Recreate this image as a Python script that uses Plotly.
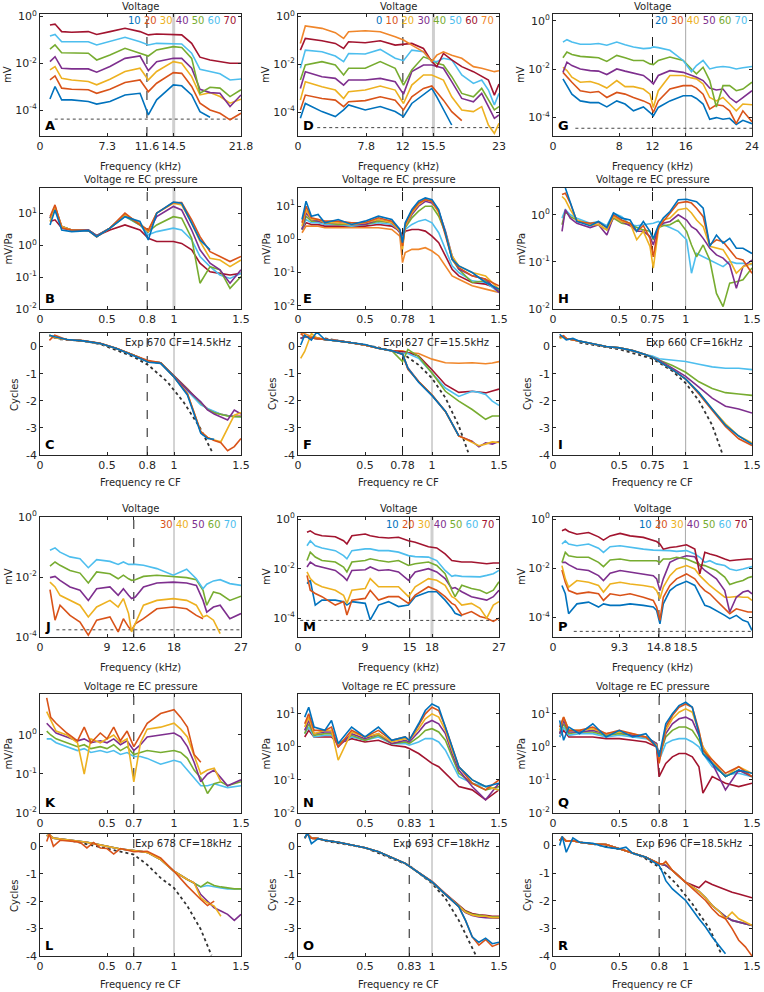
import math
import plotly.graph_objects as go

# ---------------- colours / levels ----------------
C_BLUE = "#0072BD"; C_ORANGE = "#D95319"; C_YELLOW = "#EDB120"; C_PURPLE = "#7E2F8E"
C_GREEN = "#77AC30"; C_LBLUE = "#4DBEEE"; C_DRED = "#A2142F"; C_ORANGE2 = "#F0862A"
CYCLE7 = [C_BLUE, C_ORANGE, C_YELLOW, C_PURPLE, C_GREEN, C_LBLUE, C_DRED]
CYCLE8 = CYCLE7 + [C_ORANGE2]

# ================= DATA (log10 values) =================
# ---- Exp 670 (A,B,C) ----
A_levels = [10, 20, 30, 40, 50, 60, 70]
A_freq_kHz = [1.08, 1.63, 2.35, 3.43, 5.24, 6.15, 7.59, 9.22, 10.85, 11.75, 12.65, 14.46, 15.37, 16.45, 17.35, 18.44, 19.52, 20.61, 21.8]
A_log_mV = [
    [-3.52, -2.99, -3.56, -3.56, -3.63, -3.74, -3.63, -3.35, -3.28, -4.20, -3.56, -2.92, -2.96, -3.35, -4.06, -4.30, None, None, None],
    [-2.71, -2.54, -3.06, -3.11, -3.13, -3.28, -3.11, -2.82, -2.71, -3.21, -2.85, -2.40, -2.43, -2.99, -3.70, -3.99, -4.13, -4.41, -4.13],
    [-2.28, -2.14, -2.64, -2.71, -2.78, -2.92, -2.68, -2.35, -2.21, -2.71, -2.35, -1.93, -2.00, -2.57, -3.35, -3.25, -3.42, -3.70, -3.53],
    [-1.93, -1.72, -2.21, -2.24, -2.24, -2.38, -2.14, -1.79, -1.69, -2.31, -1.93, -1.79, -1.79, -2.21, -3.11, -3.25, -3.28, -3.84, -3.35],
    [-1.40, -1.22, -1.55, -1.55, -1.57, -1.86, -1.65, -1.36, -1.57, -1.69, -1.43, -1.29, -1.33, -1.79, -3.28, -3.02, -3.06, -3.42, -3.13],
    [-0.84, -0.77, -1.08, -1.08, -1.08, -1.22, -1.08, -0.89, -1.08, -1.22, -1.15, -1.15, -1.18, -1.57, -2.26, -2.35, -2.45, -2.71, -2.67],
    [-0.37, -0.33, -0.65, -0.68, -0.65, -0.77, -0.65, -0.51, -0.65, -0.79, -0.75, -0.77, -0.79, -1.15, -1.74, -1.86, -1.93, -2.00, -2.00],
]
A_noise = [1.6, -4.38]
B_ratio = [0.075, 0.112, 0.162, 0.236, 0.361, 0.423, 0.522, 0.634, 0.746, 0.808, 0.871, 0.995, 1.057, 1.132, 1.194, 1.269, 1.343, 1.418, 1.5]
B_log_mVPa = [
    [0.64, 1.11, 0.48, 0.43, 0.46, 0.27, 0.54, 0.90, 0.75, 0.17, 1.01, 1.36, 1.32, 0.69, 0.17, -0.14, None, None, None],
    [0.90, 1.27, 0.54, 0.48, 0.46, 0.27, 0.54, 1.01, 0.64, 0.48, 1.01, 1.34, 1.34, 0.80, 0.27, -0.20, -0.35, -0.51, -0.35],
    [0.75, 1.22, 0.59, 0.48, 0.46, 0.27, 0.54, 0.96, 0.69, 0.43, 1.01, 1.32, 1.27, 0.69, 0.12, -0.41, -0.46, -0.67, -0.46],
    [0.85, 1.22, 0.59, 0.48, 0.48, 0.30, 0.54, 0.96, 0.67, 0.43, 0.90, 1.22, 1.11, 0.48, -0.14, -0.56, -0.77, -1.19, -0.77],
    [0.85, 1.17, 0.59, 0.48, 0.48, 0.30, 0.54, 0.92, 0.64, 0.43, 0.64, 0.90, 0.85, 0.22, -1.19, -0.67, -0.77, -1.35, -0.98],
    [0.85, 1.11, 0.59, 0.48, 0.48, 0.30, 0.54, 0.90, 0.64, 0.33, 0.43, 0.54, 0.48, 0.17, -0.35, -0.67, -0.93, -1.04, -0.88],
    [0.75, 0.80, 0.54, 0.48, 0.48, 0.30, 0.48, 0.64, 0.48, 0.22, 0.12, 0.12, 0.06, -0.14, -0.56, -0.83, -0.88, -0.93, -0.88],
]
C_ratio = [0.07, 0.11, 0.2, 0.32, 0.45, 0.57, 0.7, 0.81, 0.9, 1.0, 1.1, 1.2, 1.25, 1.3, 1.35, 1.4, 1.45, 1.5]
C_cycles = [
    [0.42, 0.36, 0.26, 0.21, 0.11, -0.07, -0.34, -0.58, -0.62, -1.12, -1.79, -3.20, -3.39, -3.42, None, None, None, None],
    [0.23, 0.42, 0.25, 0.22, 0.12, -0.06, -0.32, -0.52, -0.60, -1.12, -1.74, -3.14, -3.35, -3.47, -3.55, -3.84, -3.69, -3.39],
    [0.40, 0.33, 0.26, 0.21, 0.11, -0.07, -0.32, -0.56, -0.60, -1.12, -1.74, -3.14, -3.35, -3.45, -3.51, -3.02, -2.53, -2.44],
    [0.40, 0.33, 0.26, 0.21, 0.11, -0.07, -0.32, -0.56, -0.60, -1.10, -1.60, -2.04, -2.34, -2.49, -2.59, -2.71, -2.34, -2.49],
    [0.42, 0.33, 0.26, 0.21, 0.11, -0.07, -0.32, -0.56, -0.60, -1.10, -1.58, -2.10, -2.32, -2.44, -2.50, -2.56, -2.59, -2.59],
    [0.42, 0.33, 0.26, 0.21, 0.11, -0.07, -0.32, -0.56, -0.60, -1.12, -1.62, -2.15, -2.28, -2.40, -2.50, -2.55, -2.58, -2.60],
    [0.42, 0.33, 0.26, 0.21, 0.11, -0.07, -0.32, -0.56, -0.60, -1.08, -1.56, -2.08, -2.30, -2.42, -2.50, -2.54, -2.57, -2.57],
]
C_model_ratio = [0.15, 0.32, 0.45, 0.7, 0.81, 0.95, 1.07, 1.19, 1.29]
C_model_cycles = [0.27, 0.21, 0.09, -0.38, -0.69, -1.30, -2.04, -2.96, -3.94]

# ---- Exp 627 (D,E,F) ----
D_levels = [0, 10, 20, 30, 40, 50, 60, 70]
D_freq_kHz = [0.27, 0.84, 2.74, 4.27, 5.22, 5.79, 7.69, 9.41, 11.12, 12.07, 13.02, 14.36, 15.31, 15.88, 16.64, 17.59, 18.74, 20.07, 21.02, 21.79, 22.47, 23.0]
D_log_mV = [
    [-4.26, -3.64, -3.98, -4.19, -3.91, -3.70, -3.91, -3.77, -3.98, -4.19, -3.64, -3.29, -3.01, -3.36, -3.91, -4.54, None, None, None, None, None, None],
    [-3.91, -3.29, -3.43, -3.50, -3.77, -3.57, -3.52, -3.36, -3.50, -3.91, -3.36, -3.01, -2.91, -3.15, -3.50, -3.98, -4.36, None, None, None, None, None],
    [-3.50, -2.73, -2.94, -3.08, -3.43, -3.15, -3.08, -2.91, -3.08, -3.64, -2.87, -2.45, -2.45, -2.55, -2.66, -3.36, -3.91, -3.98, -3.77, -4.54, -4.89, -4.47],
    [-3.01, -2.31, -2.52, -2.59, -2.87, -2.66, -2.66, -2.59, -2.73, -3.25, -2.31, -2.03, -2.03, -2.08, -2.17, -2.73, -3.43, -3.57, -3.22, -3.77, -4.26, -4.12],
    [-2.66, -2.03, -1.89, -2.03, -2.45, -2.17, -2.17, -1.89, -2.17, -2.87, -2.24, -1.69, -1.82, -1.96, -2.03, -2.52, -3.22, -3.36, -3.01, -3.50, -3.91, -3.77],
    [-2.17, -1.41, -1.48, -1.66, -1.89, -1.55, -1.57, -1.38, -1.75, -1.85, -1.41, -1.48, -1.89, -1.89, -1.75, -1.82, -2.45, -2.80, -2.66, -3.08, -3.70, -3.22],
    [-1.41, -0.92, -1.02, -1.13, -1.34, -1.06, -1.10, -1.02, -1.20, -1.16, -1.13, -1.34, -1.89, -2.10, -1.55, -1.82, -2.10, -2.31, -2.52, -2.66, -3.29, -2.83],
    [-1.13, -0.40, -0.50, -0.68, -0.92, -0.64, -0.60, -0.64, -0.85, -0.99, -1.20, -1.48, -1.89, -1.62, -1.48, -1.62, -1.75, -2.10, -2.17, -2.24, -2.31, -2.27],
]
D_noise = [2.2, -4.65]
E_ratio = [0.03, 0.06, 0.1, 0.15, 0.2, 0.3, 0.4, 0.5, 0.6, 0.7, 0.76, 0.78, 0.8, 0.85, 0.9, 0.95, 1.0, 1.05, 1.1, 1.15, 1.2, 1.3, 1.4, 1.5]
E_log_mVPa = [
    [0.6, 1.15, 0.7, 0.75, 0.5, 0.6, 0.45, 0.55, 0.7, 0.6, 0.3, -0.1, 0.5, 0.9, 1.15, 1.25, 1.2, 0.9, 0.2, -0.6, -0.8, -1.0, -1.3, -1.5],
    [0.5, 1.0, 0.65, 0.6, 0.55, 0.55, 0.5, 0.5, 0.65, 0.55, 0.3, -0.2, 0.45, 0.85, 1.1, 1.2, 1.15, 0.85, 0.15, -0.6, -0.85, -1.1, -1.2, -1.4],
    [0.4, 0.9, 0.6, 0.6, 0.5, 0.5, 0.45, 0.5, 0.6, 0.5, 0.25, -0.3, 0.4, 0.8, 1.05, 1.2, 1.15, 0.8, 0.2, -0.5, -0.8, -1.0, -1.1, -1.5],
    [0.3, 0.8, 0.6, 0.55, 0.5, 0.5, 0.45, 0.45, 0.6, 0.5, 0.2, -0.2, 0.4, 0.75, 1.0, 1.15, 1.1, 0.85, 0.25, -0.5, -0.9, -1.1, -1.2, -1.6],
    [0.3, 0.7, 0.55, 0.55, 0.5, 0.45, 0.45, 0.45, 0.55, 0.5, 0.25, -0.1, 0.35, 0.65, 0.85, 1.0, 1.0, 0.7, 0.2, -0.6, -0.9, -1.3, -1.25, -1.55],
    [0.3, 0.6, 0.5, 0.5, 0.45, 0.45, 0.4, 0.45, 0.5, 0.45, 0.25, 0.0, 0.3, 0.45, 0.55, 0.6, 0.5, 0.2, -0.3, -0.8, -1.0, -1.25, -1.3, -1.6],
    [0.3, 0.5, 0.45, 0.45, 0.4, 0.4, 0.4, 0.4, 0.45, 0.4, 0.25, 0.1, 0.25, 0.3, 0.3, 0.25, 0.1, -0.1, -0.5, -0.9, -1.1, -1.3, -1.35, -1.5],
    [0.2, 0.4, 0.4, 0.4, 0.35, 0.35, 0.35, 0.35, 0.35, 0.3, 0.1, -0.7, -0.4, -0.3, -0.3, -0.25, -0.35, -0.5, -0.8, -1.1, -1.2, -1.4, -1.5, -1.6],
]
F_ratio = [0.02, 0.05, 0.1, 0.14, 0.2, 0.3, 0.4, 0.5, 0.6, 0.7, 0.78, 0.82, 0.9, 1.0, 1.1, 1.2, 1.3, 1.35, 1.4, 1.45, 1.5]
F_cycles = [
    [0.04, 0.40, 0.22, 0.52, 0.24, 0.19, 0.12, 0.06, -0.08, -0.17, -0.30, -0.81, -1.33, -1.82, -2.39, -3.30, None, None, None, None, None],
    [0.45, 0.35, 0.30, 0.28, 0.24, 0.19, 0.12, 0.04, -0.08, -0.17, -0.30, -0.85, -1.30, -1.80, -2.40, -3.30, -3.50, None, None, None, None],
    [-0.45, -0.20, 0.46, 0.30, 0.24, 0.19, 0.12, 0.04, -0.08, -0.17, -0.30, -0.82, -1.30, -1.80, -2.40, -3.30, -3.56, -3.66, -3.60, -3.52, -3.54],
    [0.28, 0.35, 0.30, 0.28, 0.24, 0.19, 0.12, 0.04, -0.08, -0.17, -0.30, -0.80, -1.30, -1.80, -2.40, -3.30, -3.50, -3.70, -3.55, -3.60, -3.50],
    [0.28, 0.35, 0.30, 0.28, 0.24, 0.19, 0.12, 0.04, -0.08, -0.17, -0.57, -0.12, -0.39, -0.99, -1.66, -2.02, -2.33, -2.51, -2.69, -2.57, -2.57],
    [0.28, 0.35, 0.30, 0.28, 0.24, 0.19, 0.12, 0.04, -0.08, -0.17, -0.27, -0.27, -0.45, -0.99, -1.54, -1.85, -1.66, -1.70, -1.78, -2.02, -2.18],
    [0.28, 0.35, 0.30, 0.28, 0.24, 0.19, 0.12, 0.04, -0.08, -0.17, -0.21, -0.24, -0.36, -0.87, -1.42, -1.70, -1.66, -1.68, -1.72, -1.65, -1.58],
    [0.48, 0.45, 0.35, 0.30, 0.24, 0.19, 0.12, 0.04, -0.08, -0.17, -0.17, -0.24, -0.27, -0.48, -0.61, -0.63, -0.61, -0.63, -0.65, -0.62, -0.57],
]
F_model_ratio = [0.2, 0.4, 0.6, 0.78, 0.9, 1.0, 1.1, 1.2, 1.27]
F_model_cycles = [0.28, 0.12, -0.05, -0.27, -0.69, -1.18, -1.90, -2.93, -3.90]

# ---- Exp 660 (G,H,I) ----
G_levels = [20, 30, 40, 50, 60, 70]
G_freq_kHz = [1.2, 1.68, 2.28, 3.29, 4.49, 5.49, 6.49, 7.69, 8.69, 9.7, 10.9, 11.7, 12.1, 12.7, 14.1, 15.7, 16.7, 17.3, 18.1, 18.9, 19.7, 20.5, 21.3, 22.1, 22.9, 24.0]
G_log_mV = [
    [-2.40, -2.68, -3.03, -3.31, -3.38, -3.38, -3.56, -3.31, -3.44, -3.72, -3.56, -3.79, -3.93, -3.58, -3.31, -3.10, -3.10, -3.21, -3.44, -4.07, -4.00, -4.07, -4.03, -4.28, -4.11, -4.25],
    [-2.13, -2.33, -2.54, -2.89, -2.96, -2.92, -3.17, -2.96, -3.03, -3.17, -3.31, -3.44, -3.79, -3.31, -2.82, -2.68, -2.68, -2.78, -3.03, -3.65, -3.47, -3.51, -3.72, -4.25, -3.72, -4.17],
    [-1.92, -2.06, -2.33, -2.54, -2.51, -2.61, -2.78, -2.47, -2.72, -2.72, -2.82, -3.03, -3.58, -2.89, -2.26, -2.26, -2.36, -2.40, -2.61, -3.17, -3.31, -3.17, -3.44, -3.72, -3.44, -3.47],
    [-2.13, -1.71, -1.85, -1.99, -2.06, -2.08, -2.22, -1.99, -2.08, -2.17, -2.26, -2.47, -2.61, -2.26, -2.06, -2.13, -2.26, -2.33, -2.47, -2.78, -2.86, -2.82, -3.17, -3.38, -3.17, -2.89],
    [-1.53, -1.29, -1.39, -1.47, -1.50, -1.53, -1.68, -1.43, -1.53, -1.64, -1.64, -1.78, -1.81, -1.64, -1.50, -1.64, -1.99, -2.19, -1.92, -2.47, -3.56, -2.68, -2.68, -2.89, -2.82, -2.54],
    [-0.88, -0.78, -0.88, -0.97, -0.97, -0.94, -1.01, -0.88, -0.99, -1.08, -1.15, -1.13, -1.08, -1.11, -1.22, -1.64, -2.10, -1.85, -1.64, -1.99, -1.92, -1.89, -1.92, -1.99, -1.94, -1.89],
]
G_noise = [2.7, -4.44]
H_ratio = [0.068, 0.093, 0.130, 0.180, 0.280, 0.343, 0.406, 0.456, 0.518, 0.581, 0.631, 0.681, 0.731, 0.756, 0.794, 0.831, 0.882, 0.944, 1.007, 1.044, 1.082, 1.132, 1.182, 1.232, 1.282, 1.332, 1.382, 1.432, 1.5]
H_log_mVPa = [
    [None, 0.57, 0.28, -0.14, -0.23, -0.14, -0.27, 0.04, -0.07, -0.11, -0.35, -0.14, -0.35, -0.50, -0.23, -0.07, 0.07, 0.32, 0.33, 0.30, 0.28, 0.14, -0.67, -0.43, -0.60, -0.50, -0.71, -0.71, -0.82],
    [0.43, 0.46, 0.25, -0.14, -0.18, -0.16, -0.27, 0.0, -0.11, -0.18, -0.35, -0.23, -0.50, -0.89, -0.27, -0.14, 0.04, 0.25, 0.28, 0.25, 0.14, -0.04, -0.64, -0.53, -0.57, -0.74, -0.92, -0.96, -1.24],
    [0.39, 0.32, 0.11, -0.11, -0.21, -0.21, -0.32, -0.04, -0.14, -0.18, -0.53, -0.35, -0.67, -1.13, -0.32, -0.11, -0.07, 0.11, 0.14, 0.04, -0.11, -0.25, -0.67, -0.71, -0.74, -0.96, -1.24, -1.10, -1.03],
    [-0.35, 0.11, -0.07, -0.18, -0.27, -0.21, -0.43, -0.04, -0.14, -0.23, -0.35, -0.35, -0.46, -0.64, -0.27, -0.18, -0.14, 0.0, -0.11, -0.25, -0.32, -0.50, -0.71, -0.85, -0.92, -1.06, -1.56, -1.10, -0.96],
    [-0.21, 0.07, -0.04, -0.11, -0.21, -0.21, -0.32, -0.07, -0.18, -0.21, -0.27, -0.32, -0.35, -0.53, -0.27, -0.23, -0.21, -0.11, -0.35, -0.64, -0.89, -0.64, -0.96, -1.67, -1.95, -1.45, -1.42, -1.38, -1.13],
    [-0.07, 0.11, 0.0, -0.07, -0.18, -0.14, -0.23, 0.04, -0.04, -0.21, -0.23, -0.21, -0.18, -0.18, -0.14, -0.21, -0.27, -0.35, -0.53, -1.24, -0.82, -0.89, -0.96, -1.03, -1.10, -0.99, -1.03, -1.03, -1.06],
]
I_ratio = [0.05, 0.08, 0.1, 0.15, 0.2, 0.3, 0.4, 0.5, 0.6, 0.7, 0.75, 0.8, 0.9, 1.0, 1.1, 1.2, 1.3, 1.4, 1.5]
I_cycles = [
    [0.45, 0.35, 0.25, 0.30, 0.20, 0.10, 0.0, -0.05, -0.15, -0.30, -0.40, -0.55, -0.85, -1.20, -1.70, -2.30, -2.90, -3.30, -3.60],
    [0.35, 0.40, 0.30, 0.25, 0.20, 0.10, 0.0, -0.05, -0.15, -0.30, -0.40, -0.55, -0.85, -1.20, -1.75, -2.35, -2.95, -3.40, -3.65],
    [0.30, 0.35, 0.30, 0.25, 0.20, 0.10, 0.0, -0.05, -0.15, -0.30, -0.40, -0.55, -0.85, -1.20, -1.70, -2.30, -2.85, -3.30, -3.55],
    [0.35, 0.35, 0.30, 0.25, 0.20, 0.10, 0.0, -0.05, -0.15, -0.30, -0.40, -0.50, -0.80, -1.10, -1.50, -1.90, -2.20, -2.30, -2.45],
    [0.35, 0.35, 0.30, 0.25, 0.20, 0.10, 0.0, -0.05, -0.15, -0.30, -0.40, -0.50, -0.70, -0.95, -1.30, -1.55, -1.70, -1.75, -1.80],
    [0.35, 0.35, 0.30, 0.25, 0.20, 0.10, 0.0, -0.05, -0.15, -0.30, -0.35, -0.45, -0.50, -0.55, -0.65, -0.75, -0.80, -0.80, -0.85],
]
I_model_ratio = [0.2, 0.5, 0.75, 0.9, 1.0, 1.1, 1.2, 1.28]
I_model_cycles = [0.15, -0.10, -0.45, -0.90, -1.35, -2.00, -2.90, -4.00]

# ---- Exp 678 (J,K,L) ----
J_levels = [30, 40, 50, 60, 70]
J_freq_kHz = [1.34, 2.02, 2.69, 4.03, 5.37, 6.49, 7.61, 9.40, 10.5, 11.2, 11.9, 12.3, 12.8, 13.9, 15.7, 17.9, 19.7, 21.0, 21.9, 22.4, 23.3, 24.2, 25.5, 27.0]
J_log_mV = [
    [-2.42, -3.44, -2.94, -3.28, -3.50, -3.94, -3.44, -3.33, -3.83, -3.39, -3.67, -3.78, -3.56, -3.39, -3.06, -3.00, -3.06, -3.28, -3.39, None, None, None, None, None],
    [-2.17, -2.33, -2.61, -2.78, -2.94, -3.33, -3.00, -2.78, -3.00, -2.72, -3.22, -3.83, -3.56, -2.94, -2.78, -2.72, -2.78, -2.94, -3.33, -3.28, -3.44, -3.89, None, None],
    [-2.02, -1.98, -2.11, -2.33, -2.44, -2.78, -2.39, -2.33, -2.61, -2.39, -2.61, -2.72, -2.67, -2.33, -2.20, -2.17, -2.20, -2.28, -2.78, -3.17, -3.00, -2.94, -3.39, -3.22],
    [-1.64, -1.50, -1.61, -1.78, -1.87, -2.20, -1.83, -1.89, -2.06, -1.94, -2.06, -2.11, -2.09, -1.98, -1.94, -1.98, -2.02, -2.09, -2.44, -2.94, -2.50, -2.56, -2.78, -2.64],
    [-1.11, -1.03, -1.17, -1.33, -1.39, -1.69, -1.42, -1.48, -1.58, -1.50, -1.58, -1.58, -1.58, -1.61, -1.72, -1.94, -1.74, -2.06, -2.39, -2.24, -2.13, -2.09, -2.22, -2.28],
]
J_noise = [2.2, -3.76]
K_ratio = [0.05, 0.08, 0.12, 0.2, 0.28, 0.33, 0.38, 0.45, 0.5, 0.55, 0.6, 0.65, 0.7, 0.75, 0.8, 0.9, 1.0, 1.05, 1.1, 1.15, 1.2, 1.25, 1.3, 1.35, 1.4, 1.5]
K_log_mVPa = [
    [0.95, 0.45, 0.30, 0.05, -0.15, 0.20, -0.20, 0.05, -0.10, 0.20, -0.15, 0.10, -0.30, 0.0, 0.30, 0.55, 0.65, 0.45, 0.20, -0.50, -0.70, None, None, None, None, None],
    [0.60, 0.40, 0.10, 0.0, -0.20, -1.00, -0.10, -0.20, -0.10, 0.0, -0.20, -0.10, -1.20, -0.20, 0.15, 0.20, 0.30, 0.15, -0.05, -0.50, -1.00, -0.90, -0.85, -1.20, None, None],
    [0.30, 0.20, 0.05, -0.05, -0.15, -0.10, -0.20, -0.15, -0.20, -0.10, -0.25, -0.15, -0.40, -0.25, -0.05, 0.0, 0.05, -0.05, -0.30, -0.70, -1.20, -1.00, -0.90, -1.10, -1.30, -1.15],
    [0.10, 0.0, -0.10, -0.20, -0.30, -0.25, -0.35, -0.30, -0.35, -0.25, -0.40, -0.30, -0.50, -0.45, -0.40, -0.45, -0.40, -0.45, -0.60, -0.90, -1.10, -1.50, -1.25, -1.20, -1.30, -1.20],
    [-0.10, -0.10, -0.20, -0.30, -0.40, -0.35, -0.45, -0.40, -0.45, -0.40, -0.50, -0.45, -0.55, -0.55, -0.60, -0.75, -0.65, -0.70, -0.90, -1.10, -1.30, -1.30, -1.25, -1.30, -1.35, -1.30],
]
L_ratio = [0.05, 0.07, 0.1, 0.15, 0.25, 0.3, 0.35, 0.4, 0.45, 0.5, 0.55, 0.6, 0.7, 0.8, 0.9, 1.0, 1.1, 1.15, 1.2, 1.25, 1.3, 1.35, 1.4, 1.45, 1.5]
L_cycles = [
    [0.18, 0.45, 0.0, 0.22, 0.18, 0.14, -0.06, 0.14, -0.06, -0.08, -0.28, -0.08, -0.20, -0.18, -0.42, -0.91, -1.45, -1.70, -1.94, -2.16, -2.00, None, None, None, None],
    [0.39, 0.42, 0.30, 0.27, 0.22, 0.18, 0.15, 0.10, 0.05, 0.0, -0.05, -0.10, -0.15, -0.22, -0.48, -0.91, -1.21, -1.33, -1.88, -2.06, -2.18, -2.55, None, None, None],
    [0.39, 0.42, 0.30, 0.27, 0.22, 0.18, 0.15, 0.10, 0.05, 0.0, -0.05, -0.10, -0.15, -0.22, -0.48, -0.91, -1.21, -1.33, -1.76, -2.00, -2.24, -2.36, -2.48, -2.70, -2.48],
    [0.39, 0.42, 0.30, 0.27, 0.22, 0.18, 0.15, 0.10, 0.05, 0.0, -0.05, -0.10, -0.15, -0.22, -0.48, -0.91, -1.21, -1.33, -1.48, -1.31, -1.43, -1.48, -1.52, -1.55, -1.55],
    [0.39, 0.42, 0.30, 0.27, 0.22, 0.18, 0.15, 0.10, 0.05, 0.0, -0.05, -0.10, -0.15, -0.22, -0.48, -0.91, -1.21, -1.33, -1.48, -1.43, -1.48, -1.52, -1.55, -1.55, -1.55],
]
L_model_ratio = [0.2, 0.4, 0.55, 0.7, 0.8, 0.9, 1.0, 1.1, 1.2, 1.28]
L_model_cycles = [0.24, 0.02, -0.12, -0.30, -0.67, -1.15, -1.52, -2.18, -3.03, -3.98]

# ---- Exp 693 (M,N,O) ----
M_levels = [10, 20, 30, 40, 50, 60, 70]
M_freq_kHz = [1.21, 1.65, 2.32, 3.22, 5.01, 6.12, 6.57, 7.24, 9.03, 9.70, 10.82, 12.16, 13.5, 14.84, 15.74, 17.52, 18.64, 19.76, 20.66, 21.1, 22.0, 23.3, 24.45, 25.35, 26.24, 27.0]
M_log_mV = [
    [-2.60, -2.47, -3.47, -3.27, -3.27, -3.33, -3.47, -3.33, -3.40, -4.07, -3.47, -3.33, -3.53, -3.47, -3.13, -2.93, -2.93, -3.27, -3.60, -3.80, -3.91, None, None, None, None, None],
    [-2.27, -2.87, -3.00, -3.13, -3.47, -3.33, -3.87, -3.27, -3.20, -2.87, -3.27, -3.13, -3.13, -3.40, -3.07, -2.73, -2.87, -3.13, -3.40, -3.47, -3.87, -3.73, -3.93, -4.00, -4.13, -4.00],
    [-2.13, -2.40, -2.60, -2.73, -2.87, -3.07, -3.40, -2.87, -2.80, -2.40, -2.73, -2.73, -2.73, -3.13, -2.73, -2.40, -2.47, -2.67, -3.13, -3.20, -3.47, -3.40, -3.60, -4.00, -3.47, -3.33],
    [-1.93, -1.73, -1.87, -1.93, -2.07, -2.33, -2.47, -2.07, -2.04, -1.93, -2.07, -2.04, -2.13, -2.47, -2.13, -2.00, -2.13, -2.40, -2.80, -2.76, -2.93, -3.13, -3.20, -3.27, -3.13, -2.87],
    [-1.67, -1.33, -1.53, -1.67, -1.73, -1.93, -2.13, -1.73, -1.67, -1.60, -1.67, -1.73, -1.67, -1.87, -1.80, -1.73, -1.87, -2.20, -2.87, -3.13, -2.67, -2.80, -2.87, -3.00, -2.87, -2.53],
    [-1.07, -0.87, -1.07, -1.16, -1.27, -1.47, -1.60, -1.27, -1.20, -1.20, -1.27, -1.27, -1.33, -1.47, -1.51, -1.53, -1.67, -2.07, -2.31, -2.27, -2.31, -2.33, -2.33, -2.27, -2.20, -2.07],
    [-0.53, -0.47, -0.60, -0.67, -0.71, -0.87, -1.00, -0.67, -0.60, -0.67, -0.73, -0.76, -0.73, -0.87, -0.93, -1.11, -1.16, -1.40, -1.67, -1.69, -1.73, -1.73, -1.77, -1.80, -1.77, -1.77],
]
M_noise = [0.3, -4.09]
N_ratio = [0.05, 0.08, 0.12, 0.2, 0.25, 0.3, 0.4, 0.5, 0.6, 0.7, 0.8, 0.83, 0.9, 0.95, 1.0, 1.05, 1.1, 1.15, 1.2, 1.3, 1.4, 1.5]
N_log_mVPa = [
    [0.9, 1.2, 0.6, 0.5, 0.8, 0.1, 0.6, 0.3, 0.6, 0.2, 0.3, 0.2, 0.7, 1.1, 1.3, 1.2, 0.6, 0.0, -0.6, -1.0, -1.2, -1.1],
    [0.7, 1.0, 0.5, 0.5, 0.6, 0.0, 0.5, 0.3, 0.5, 0.2, 0.3, 0.2, 0.65, 1.0, 1.2, 1.1, 0.6, 0.0, -0.6, -1.1, -1.3, -1.0],
    [0.6, 0.9, 0.4, 0.5, 0.5, -0.4, 0.45, 0.3, 0.4, 0.15, 0.25, 0.2, 0.55, 0.85, 1.0, 0.9, 0.5, -0.1, -0.6, -1.0, -1.2, -1.3],
    [0.5, 0.8, 0.4, 0.45, 0.45, 0.0, 0.4, 0.25, 0.4, 0.1, 0.2, 0.15, 0.45, 0.7, 0.8, 0.7, 0.4, -0.2, -0.7, -1.2, -1.6, -1.1],
    [0.4, 0.7, 0.35, 0.4, 0.4, 0.1, 0.35, 0.2, 0.35, 0.1, 0.15, 0.1, 0.3, 0.5, 0.55, 0.45, 0.2, -0.3, -0.8, -1.1, -1.3, -1.2],
    [0.4, 0.6, 0.3, 0.35, 0.35, 0.1, 0.3, 0.2, 0.3, 0.1, 0.1, 0.05, 0.15, 0.25, 0.25, 0.15, -0.1, -0.5, -0.9, -1.1, -1.2, -1.3],
    [0.3, 0.5, 0.3, 0.3, 0.3, 0.1, 0.25, 0.15, 0.2, 0.05, 0.0, -0.05, -0.2, -0.35, -0.5, -0.6, -0.8, -1.0, -1.2, -1.3, -1.6, -1.3],
]
O_ratio = [0.05, 0.07, 0.1, 0.15, 0.2, 0.3, 0.4, 0.5, 0.6, 0.7, 0.8, 0.83, 0.9, 1.0, 1.1, 1.2, 1.25, 1.3, 1.35, 1.4, 1.45, 1.5]
O_cycles = [
    [0.30, 0.50, 0.10, 0.28, 0.22, 0.15, 0.05, -0.05, -0.20, -0.40, -0.62, -0.72, -0.95, -1.30, -1.75, -2.20, -2.70, -3.30, -3.50, -3.35, -3.55, -3.50],
    [0.30, 0.45, 0.30, 0.28, 0.22, 0.15, 0.05, -0.05, -0.20, -0.40, -0.62, -0.72, -0.95, -1.30, -1.75, -2.20, -2.70, -3.30, -3.60, -3.40, -3.65, -3.55],
    [0.30, 0.45, 0.30, 0.28, 0.22, 0.15, 0.05, -0.05, -0.20, -0.40, -0.62, -0.72, -0.95, -1.30, -1.75, -2.20, -2.40, -2.50, -2.55, -2.55, -2.60, -2.60],
    [0.30, 0.45, 0.30, 0.28, 0.22, 0.15, 0.05, -0.05, -0.20, -0.40, -0.62, -0.72, -0.95, -1.30, -1.75, -2.20, -2.42, -2.52, -2.58, -2.60, -2.62, -2.62],
    [0.30, 0.45, 0.30, 0.28, 0.22, 0.15, 0.05, -0.05, -0.20, -0.40, -0.62, -0.72, -0.95, -1.30, -1.75, -2.18, -2.38, -2.48, -2.52, -2.55, -2.58, -2.58],
    [0.30, 0.45, 0.30, 0.28, 0.22, 0.15, 0.05, -0.05, -0.20, -0.40, -0.62, -0.72, -0.95, -1.30, -1.75, -2.20, -2.40, -2.50, -2.55, -2.58, -2.60, -2.60],
    [0.30, 0.45, 0.30, 0.28, 0.22, 0.15, 0.05, -0.05, -0.20, -0.40, -0.62, -0.72, -0.95, -1.28, -1.72, -2.15, -2.35, -2.45, -2.50, -2.52, -2.55, -2.55],
]
O_model_ratio = [0.2, 0.5, 0.83, 1.0, 1.1, 1.2, 1.3, 1.33]
O_model_cycles = [0.20, -0.05, -0.70, -1.35, -1.90, -2.70, -3.70, -4.00]

# ---- Exp 696 (P,Q,R) ----
P_levels = [10, 20, 30, 40, 50, 60, 70]
P_freq_kHz = [1.25, 1.72, 2.18, 3.34, 4.97, 6.36, 7.05, 7.98, 9.37, 10.77, 12.62, 14.01, 14.48, 14.94, 15.41, 16.33, 17.26, 18.65, 19.81, 20.51, 21.21, 21.91, 22.83, 23.99, 24.69, 25.61, 26.54, 27.24, 27.8]
P_log_mV = [
    [-2.70, -3.04, -3.85, -3.45, -3.38, -3.58, -3.45, -3.51, -3.51, -3.45, -3.51, -3.58, -3.72, -4.26, -3.45, -2.91, -2.70, -2.53, -2.70, -3.11, -3.51, -3.58, -3.72, -3.92, -4.05, -3.92, -4.12, -4.19, -4.53],
    [-2.07, -2.57, -2.91, -3.04, -2.97, -3.04, -3.31, -3.04, -3.11, -3.04, -3.18, -3.31, -3.58, -4.12, -3.18, -2.70, -2.43, -2.23, -2.43, -2.70, -2.91, -3.04, -3.31, -3.65, -3.85, -3.65, -3.72, -3.78, -3.78],
    [-1.89, -2.43, -2.77, -2.50, -2.57, -2.70, -2.97, -2.64, -2.57, -2.64, -2.70, -2.77, -2.91, -3.24, -2.77, -2.30, -2.03, -1.89, -2.03, -2.30, -2.50, -2.70, -2.91, -3.18, -3.18, -3.15, -3.18, -3.18, -3.31],
    [-1.76, -1.76, -1.85, -2.03, -2.09, -2.30, -2.50, -2.20, -2.09, -2.16, -2.23, -2.30, -2.43, -2.91, -2.43, -1.76, -1.62, -1.49, -1.53, -1.89, -2.09, -2.23, -2.43, -2.91, -3.78, -3.18, -2.97, -2.91, -3.04],
    [-1.76, -1.35, -1.49, -1.55, -1.55, -1.76, -1.93, -1.66, -1.62, -1.69, -1.69, -1.69, -1.69, -1.76, -1.62, -1.62, -1.55, -1.62, -1.76, -1.85, -1.89, -1.99, -2.09, -2.36, -2.66, -2.57, -2.50, -2.39, -2.34],
    [-1.01, -0.88, -1.01, -1.08, -1.01, -1.18, -1.35, -1.12, -1.08, -1.15, -1.22, -1.26, -1.26, -1.28, -1.28, -1.28, -1.31, -1.28, -1.42, -1.55, -1.76, -1.69, -1.82, -1.89, -2.03, -2.09, -2.03, -1.96, -1.93],
    [-0.47, -0.41, -0.50, -0.61, -0.54, -0.72, -0.85, -0.68, -0.58, -0.68, -0.74, -0.88, -0.91, -1.01, -1.22, -1.15, -1.12, -1.04, -1.22, -2.23, -1.35, -1.42, -1.49, -1.62, -1.69, -1.66, -1.62, -1.62, -1.62],
]
P_noise = [2.9, -4.57]
Q_ratio = [0.05, 0.08, 0.12, 0.2, 0.3, 0.4, 0.5, 0.6, 0.7, 0.78, 0.8, 0.85, 0.9, 0.95, 1.0, 1.05, 1.1, 1.13, 1.2, 1.3, 1.4, 1.5]
Q_log_mVPa = [
    [0.8, 0.2, 0.6, 0.4, 0.7, 0.3, 0.5, 0.3, 0.4, 0.0, -0.3, 0.7, 1.0, 1.25, 1.35, 1.2, 0.4, -0.2, -0.5, -0.9, -0.7, -0.8],
    [0.6, 0.9, 0.5, 0.5, 0.6, 0.4, 0.5, 0.4, 0.3, 0.0, -0.5, 0.6, 0.95, 1.2, 1.3, 1.2, 0.5, -0.1, -0.4, -0.8, -0.6, -0.9],
    [0.5, 0.9, 0.5, 0.5, 0.55, 0.4, 0.45, 0.4, 0.3, 0.05, -0.4, 0.5, 0.85, 1.05, 1.15, 1.05, 0.45, 0.0, -0.4, -0.9, -0.6, -0.8],
    [0.4, 0.8, 0.45, 0.45, 0.5, 0.4, 0.45, 0.35, 0.3, 0.1, -0.3, 0.4, 0.7, 0.85, 0.9, 0.8, 0.35, 0.0, -0.5, -1.3, -0.7, -0.9],
    [0.4, 0.7, 0.4, 0.45, 0.45, 0.35, 0.4, 0.35, 0.3, 0.1, -0.3, 0.3, 0.5, 0.6, 0.6, 0.5, 0.2, -0.1, -0.5, -0.9, -0.7, -0.9],
    [0.3, 0.6, 0.35, 0.4, 0.4, 0.3, 0.35, 0.3, 0.25, 0.1, -0.4, 0.1, 0.2, 0.25, 0.25, 0.15, 0.0, -0.2, -0.6, -0.85, -0.8, -0.9],
    [0.3, 0.5, 0.3, 0.3, 0.3, 0.25, 0.25, 0.2, 0.15, 0.0, -0.9, -0.5, -0.3, -0.2, -0.2, -0.3, -0.6, -1.4, -0.9, -1.1, -1.2, -1.1],
]
R_ratio = [0.05, 0.07, 0.1, 0.15, 0.2, 0.3, 0.4, 0.5, 0.55, 0.6, 0.7, 0.8, 0.83, 0.85, 0.9, 1.0, 1.1, 1.15, 1.2, 1.25, 1.3, 1.35, 1.4, 1.45, 1.5]
R_cycles = [
    [0.0, 0.33, -0.24, 0.28, 0.12, 0.08, -0.06, -0.12, -0.06, -0.28, -0.42, -0.72, -1.02, -1.27, -1.57, -1.99, -2.65, -2.95, -3.31, -3.61, -3.92, None, None, None, None],
    [0.18, 0.30, 0.16, 0.18, 0.12, 0.06, 0.04, -0.12, -0.18, -0.28, -0.42, -0.66, -0.66, -0.57, -0.90, -1.33, -1.75, -1.99, -2.29, -2.53, -2.65, -3.01, -3.43, -3.67, -4.00],
    [0.18, 0.30, 0.16, 0.18, 0.12, 0.06, 0.04, -0.12, -0.18, -0.28, -0.42, -0.66, -0.66, -0.60, -0.90, -1.33, -1.66, -1.89, -2.17, -2.37, -2.65, -2.41, -2.65, -2.77, -2.89],
    [0.18, 0.30, 0.16, 0.18, 0.12, 0.06, 0.04, -0.12, -0.18, -0.28, -0.42, -0.66, -0.68, -0.72, -0.90, -1.33, -1.66, -1.89, -2.17, -2.37, -2.57, -2.71, -2.77, -2.83, -2.89],
    [0.18, 0.30, 0.16, 0.18, 0.12, 0.06, 0.04, -0.12, -0.18, -0.28, -0.42, -0.66, -0.68, -0.72, -0.90, -1.33, -1.66, -1.89, -2.17, -2.37, -2.57, -2.71, -2.77, -2.83, -2.89],
    [0.18, 0.30, 0.16, 0.18, 0.12, 0.06, 0.04, -0.12, -0.18, -0.28, -0.42, -0.66, -0.68, -0.72, -0.90, -1.33, -1.66, -1.89, -2.17, -2.37, -2.57, -2.71, -2.77, -2.83, -2.89],
    [0.18, 0.30, 0.16, 0.18, 0.12, 0.06, 0.04, -0.12, -0.18, -0.28, -0.42, -0.66, -0.68, -0.72, -0.90, -1.33, -1.53, -1.29, -1.41, -1.51, -1.60, -1.69, -1.75, -1.81, -1.89],
]
R_model_ratio = [0.3, 0.55, 0.68, 0.8, 0.93, 1.05, 1.18, 1.27]
R_model_cycles = [0.06, -0.18, -0.42, -0.78, -1.39, -2.11, -3.01, -3.94]

# ---- per-experiment markers ----
V_ticks = [[0, 7.3, 11.6, 14.5, 21.8], [0, 7.8, 12, 15.5, 23], [0, 8, 12, 16, 24],
           [0, 9, 12.6, 18, 27], [0, 9, 15, 18, 27], [0, 9.3, 14.8, 18.5, 27.8]]
edge_kHz = [11.6, 12, 12, 12.6, 15, 14.8]
CF_kHz = [14.5, 15.5, 16, 18, 18, 18.5]
edge_ratio = [0.8, 0.78, 0.75, 0.7, 0.83, 0.8]
exp_labels = ["Exp 670 CF=14.5kHz", "Exp 627 CF=15.5kHz", "Exp 660 CF=16kHz",
              "Exp 678 CF=18kHz", "Exp 693 CF=18kHz", "Exp 696 CF=18.5kHz"]

# ================= LAYOUT =================
W, H = 764, 992
FONT = "DejaVu Sans"
INK = "#262626"
COLS = [(40, 241), (298, 499), (553, 752)]
ROWS = [(14, 136), (188, 309), (333, 455), (517, 637), (694, 813), (834, 956)]

fig = go.Figure()
annotations = []
shapes = []


def px_x(x):
    return x / W


def px_y(y):
    return 1 - y / H


def sfx(n):
    return "" if n == 1 else str(n)


def text(x, y, s, size=10, color=INK, xa="center", ya="middle", angle=0):
    annotations.append(dict(x=px_x(x), y=px_y(y), xref="paper", yref="paper", text=s, showarrow=False,
                            font=dict(family=FONT, size=size, color=color), xanchor=xa, yanchor=ya,
                            textangle=angle))


def fmt(v):
    return f"{v:g}"


def make_axes(n, col, row, xr, xt, ytype, yr, yt, ytt):
    c0, c1 = COLS[col]
    r0, r1 = ROWS[row]
    common = dict(showline=True, mirror="ticks", linecolor=INK, linewidth=0.8, ticks="inside",
                  ticklen=3, tickcolor=INK, showgrid=False, zeroline=False, tickangle=0,
                  automargin=False, tickfont=dict(family=FONT, size=11, color=INK))
    fig.layout["xaxis" + sfx(n)] = dict(domain=[px_x(c0), px_x(c1)], anchor="y" + sfx(n), range=xr,
                                        tickvals=xt, ticktext=[fmt(v) for v in xt], **common)
    fig.layout["yaxis" + sfx(n)] = dict(domain=[px_y(r1), px_y(r0)], anchor="x" + sfx(n), type=ytype,
                                        range=yr, tickvals=yt, ticktext=ytt, **common)


def vlines(n, dash_x, solid_x, thick):
    xr = "x" + sfx(n)
    yr = "y" + sfx(n) + " domain"
    solid = dict(color="#cfcfcf", width=3) if thick else dict(color="#a8a8a8", width=1)
    shapes.append(dict(type="line", xref=xr, yref=yr, x0=solid_x, x1=solid_x, y0=0, y1=1, line=solid, layer="below"))
    shapes.append(dict(type="line", xref=xr, yref=yr, x0=dash_x, x1=dash_x, y0=0, y1=1,
                       line=dict(color="#1a1a1a", width=1, dash="dash"), layer="below"))


def add_curve(n, x, y, color, logy, width=1.6, dash=None):
    yy = [None if v is None else (10 ** v if logy else v) for v in y]
    fig.add_trace(go.Scatter(x=x, y=yy, mode="lines", xaxis="x" + sfx(n), yaxis="y" + sfx(n),
                             line=dict(color=color, width=width, dash=dash), hoverinfo="skip",
                             showlegend=False))


def letter(col, row, s):
    text(COLS[col][0] + 3, ROWS[row][1] - 1, "<b>" + s + "</b>", size=13, color="#000", xa="left", ya="bottom")


V_TV = [1, 1e-2, 1e-4]
V_TT = ["10<sup>0</sup>", "10<sup>-2</sup>", "10<sup>-4</sup>"]

voltage_panels = [
    (1, 0, 0, "A", A_freq_kHz, A_log_mV, A_levels, CYCLE7, A_noise, [-5.1, 0.1], True),
    (4, 1, 0, "D", D_freq_kHz, D_log_mV, D_levels, CYCLE8, D_noise, [-5.0, 0.1], True),
    (7, 2, 0, "G", G_freq_kHz, G_log_mV, G_levels, CYCLE7[:6], G_noise, [-4.76, 0.28], False),
    (10, 0, 3, "J", J_freq_kHz, J_log_mV, J_levels, CYCLE7[1:6], J_noise, [-4.0, 0.0], False),
    (13, 1, 3, "M", M_freq_kHz, M_log_mV, M_levels, CYCLE7, M_noise, [-4.76, 0.09], True),
    (16, 2, 3, "P", P_freq_kHz, P_log_mV, P_levels, CYCLE7, P_noise, [-4.8, 0.09], False),
]
ratio_panels = [
    (2, 0, 1, "B", B_ratio, B_log_mVPa, CYCLE7, [-2, 1.8], [10, 1, 0.1, 0.01], True),
    (5, 1, 1, "E", E_ratio, E_log_mVPa, CYCLE8, [-2.1, 1.55], [10, 1, 0.1, 0.01], False),
    (8, 2, 1, "H", H_ratio, H_log_mVPa, CYCLE7[:6], [-2, 0.57], [1, 0.1, 0.01], False),
    (11, 0, 4, "K", K_ratio, K_log_mVPa, CYCLE7[1:6], [-2, 1.05], [1, 0.1, 0.01], False),
    (14, 1, 4, "N", N_ratio, N_log_mVPa, CYCLE7, [-2, 1.6], [10, 1, 0.1, 0.01], False),
    (17, 2, 4, "Q", Q_ratio, Q_log_mVPa, CYCLE7, [-2, 1.6], [10, 1, 0.1, 0.01], False),
]
phase_panels = [
    (3, 0, 2, "C", C_ratio, C_cycles, CYCLE7, C_model_ratio, C_model_cycles, 0.5),
    (6, 1, 2, "F", F_ratio, F_cycles, CYCLE8, F_model_ratio, F_model_cycles, 0.48),
    (9, 2, 2, "I", I_ratio, I_cycles, CYCLE7[:6], I_model_ratio, I_model_cycles, 0.5),
    (12, 0, 5, "L", L_ratio, L_cycles, CYCLE7[1:6], L_model_ratio, L_model_cycles, 0.45),
    (15, 1, 5, "O", O_ratio, O_cycles, CYCLE7, O_model_ratio, O_model_cycles, 0.45),
    (18, 2, 5, "R", R_ratio, R_cycles, CYCLE7, R_model_ratio, R_model_cycles, 0.42),
]

EXP_INDEX = {0: {0: 0, 3: 3}, 1: {0: 1, 3: 4}, 2: {0: 2, 3: 5}}

for (n, col, row, let, fx, series, levels, colors, noise, yr, thick) in voltage_panels:
    e = EXP_INDEX[col][row]
    xt = V_ticks[e]
    make_axes(n, col, row, [0, xt[-1]], xt, "log", yr, V_TV, V_TT)
    vlines(n, edge_kHz[e], CF_kHz[e], thick)
    add_curve(n, [noise[0], xt[-1]], [noise[1], noise[1]], "#444", True, width=1, dash="dot")
    for s, c in zip(series, colors):
        add_curve(n, fx, s, c, True)
    c0, c1 = COLS[col]
    r0, r1 = ROWS[row]
    text((c0 + c1) / 2, r0 - 8, "Voltage")
    text(c0 + (c1 - c0) / 2, r1 + 30, "Frequency (kHz)")
    text(c0 - 32, (r0 + r1) / 2, "mV", angle=-90)
    legend = " ".join(f"<span style='color:{c}'>{lv}</span>" for lv, c in zip(levels, colors))
    text(c1 - 3, r0 + 7, legend, size=10, xa="right")
    letter(col, row, let)

for (n, col, row, let, fx, series, colors, yr, tv, thick) in ratio_panels:
    e = EXP_INDEX[col][row - 1]
    xt = [0, 0.5, edge_ratio[e], 1, 1.5]
    ytt = ["10<sup>%d</sup>" % round(math.log10(v)) for v in tv]
    make_axes(n, col, row, [0, 1.5], xt, "log", yr, tv, ytt)
    vlines(n, edge_ratio[e], 1, thick)
    for s, c in list(zip(series, colors))[::-1]:
        add_curve(n, fx, s, c, True)
    c0, c1 = COLS[col]
    r0, r1 = ROWS[row]
    text((c0 + c1) / 2, r0 - 8, "Voltage re EC pressure")
    text(c0 - 32, (r0 + r1) / 2, "mV/Pa", angle=-90)
    letter(col, row, let)

for (n, col, row, let, fx, series, colors, mx, my, ytop) in phase_panels:
    e = EXP_INDEX[col][row - 2]
    xt = [0, 0.5, edge_ratio[e], 1, 1.5]
    make_axes(n, col, row, [0, 1.5], xt, "linear", [-4, ytop], [0, -1, -2, -3, -4],
              ["0", "-1", "-2", "-3", "-4"])
    vlines(n, edge_ratio[e], 1, False)
    add_curve(n, mx, my, "#333", False, width=1.8, dash="dot")
    for s, c in list(zip(series, colors))[::-1]:
        add_curve(n, fx, s, c, False)
    c0, c1 = COLS[col]
    r0, r1 = ROWS[row]
    text(c1 - 8, r0 + 9, exp_labels[e], size=10, xa="right")
    text(c0 + (c1 - c0) / 2, r1 + 28, "Frequency re CF")
    text(c0 - 26, (r0 + r1) / 2, "Cycles", angle=-90)
    letter(col, row, let)

fig.update_layout(width=W, height=H, margin=dict(l=0, r=0, t=0, b=0, autoexpand=False), showlegend=False,
                  paper_bgcolor="white", plot_bgcolor="white", annotations=annotations, shapes=shapes,
                  font=dict(family=FONT, size=11, color=INK))
# remove the browser's default 8 px body margin so the figure sits at the page origin; hide the mode bar
fig.write_html("out.html", config={"displayModeBar": False},
               post_script="document.body.style.margin='0px';document.body.style.overflow='hidden';")
